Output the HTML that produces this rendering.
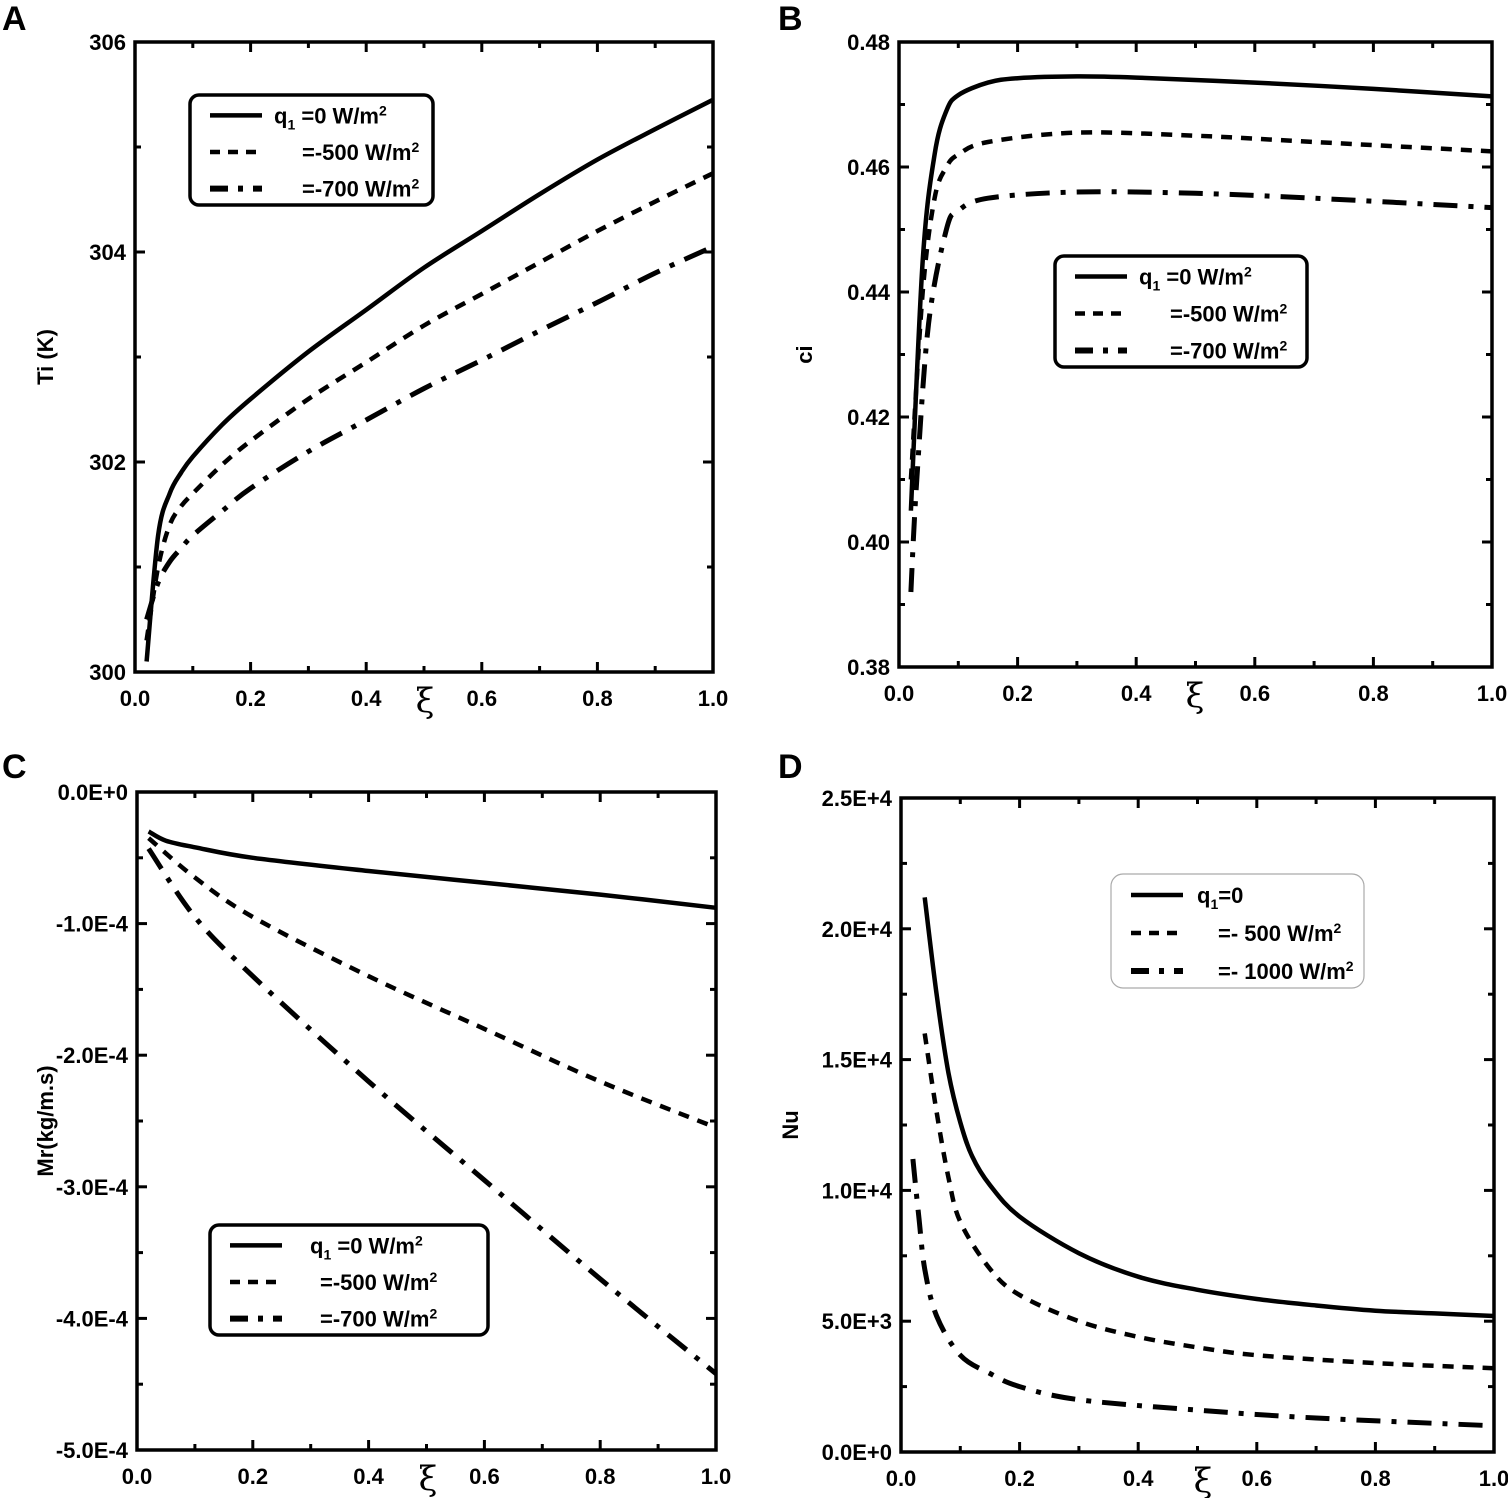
<!DOCTYPE html>
<html><head><meta charset="utf-8"><style>
html,body{margin:0;padding:0;background:#fff;}
svg{display:block;font-family:"Liberation Sans",Arial,sans-serif;font-weight:bold;}
</style></head><body>
<svg id="fig" width="1508" height="1498" viewBox="0 0 1508 1498" xmlns="http://www.w3.org/2000/svg"></svg>
<script>
// ---- Panel A data (Ti in K) ----
const aX0=[0.02,0.04,0.06,0.08,0.1,0.15,0.2,0.3,0.4,0.5,0.6,0.7,0.8,0.9,1.0];
const aY0=[300.1,301.3,301.7,301.9,302.05,302.35,302.6,303.05,303.45,303.85,304.2,304.55,304.88,305.17,305.45];
const aX1=[0.02,0.04,0.06,0.08,0.1,0.15,0.2,0.3,0.4,0.5,0.6,0.7,0.8,0.9,1.0];
const aY1=[300.3,301.0,301.4,301.58,301.7,301.97,302.2,302.6,302.95,303.3,303.6,303.9,304.2,304.48,304.75];
const aX2=[0.02,0.04,0.06,0.08,0.1,0.15,0.2,0.3,0.4,0.5,0.6,0.7,0.8,0.9,1.0];
const aY2=[300.5,300.85,301.05,301.18,301.3,301.53,301.75,302.1,302.4,302.7,302.97,303.25,303.52,303.8,304.05];
const aYTicks=["300","302","304","306"];
// ---- Panel B data (ci) ----
const bX0=[0.02,0.04,0.06,0.08,0.1,0.15,0.2,0.3,0.4,0.6,0.8,1.0];
const bY0=[0.405,0.445,0.462,0.469,0.4715,0.4735,0.4742,0.4745,0.4743,0.4735,0.4725,0.4713];
const bX1=[0.02,0.04,0.06,0.08,0.1,0.15,0.3,0.5,0.7,1.0];
const bY1=[0.41,0.44,0.455,0.46,0.462,0.464,0.4655,0.465,0.464,0.4625];
const bX2=[0.02,0.03,0.05,0.08,0.1,0.15,0.3,0.5,0.7,1.0];
const bY2=[0.392,0.41,0.435,0.45,0.453,0.455,0.456,0.4558,0.455,0.4535];
const bYTicks=["0.38","0.40","0.42","0.44","0.46","0.48"];
// ---- Panel C data (Mr, units 1E-4) ----
const cX0=[0.02,0.05,0.1,0.2,0.4,0.6,0.8,1.0];
const cY0=[-0.3,-0.37,-0.42,-0.5,-0.6,-0.69,-0.78,-0.88];
const cX1=[0.02,0.1,0.2,0.4,0.6,0.8,1.0];
const cY1=[-0.35,-0.65,-0.95,-1.4,-1.8,-2.2,-2.55];
const cX2=[0.02,0.1,0.2,0.4,0.6,0.8,1.0];
const cY2=[-0.43,-0.95,-1.4,-2.2,-2.95,-3.7,-4.42];
const cYTicks=["-5.0E-4","-4.0E-4","-3.0E-4","-2.0E-4","-1.0E-4","0.0E+0"];
// ---- Panel D data (Nu, units 1E4) ----
const dX0=[0.04,0.06,0.08,0.1,0.12,0.15,0.2,0.3,0.4,0.5,0.6,0.7,0.8,0.9,1.0];
const dY0=[2.12,1.75,1.45,1.26,1.13,1.02,0.9,0.76,0.67,0.62,0.585,0.56,0.54,0.53,0.52];
const dX1=[0.04,0.06,0.08,0.1,0.15,0.2,0.3,0.4,0.5,0.6,0.8,1.0];
const dY1=[1.6,1.3,1.05,0.88,0.7,0.6,0.5,0.44,0.4,0.37,0.34,0.32];
const dX2=[0.02,0.03,0.04,0.06,0.1,0.15,0.2,0.3,0.5,0.7,1.0];
const dY2=[1.12,0.9,0.7,0.52,0.37,0.3,0.25,0.2,0.16,0.13,0.1];
const dYTicks=["0.0E+0","5.0E+3","1.0E+4","1.5E+4","2.0E+4","2.5E+4"];
const xTicks=["0.0","0.2","0.4","0.6","0.8","1.0"];

const NS="http://www.w3.org/2000/svg";
const fig=document.getElementById('fig');
function mk(tag,attrs,parent){const e=document.createElementNS(NS,tag);for(const k in attrs)e.setAttribute(k,attrs[k]);(parent||fig).appendChild(e);return e;}
const DASH=["none","11 9","24 11 5 11"];
function smooth(pts){
  let d='M'+pts[0][0].toFixed(1)+','+pts[0][1].toFixed(1);
  for(let i=0;i<pts.length-1;i++){
    const p0=pts[Math.max(0,i-1)],p1=pts[i],p2=pts[i+1],p3=pts[Math.min(pts.length-1,i+2)];
    const c1=[p1[0]+(p2[0]-p0[0])/6,p1[1]+(p2[1]-p0[1])/6];
    const c2=[p2[0]-(p3[0]-p1[0])/6,p2[1]-(p3[1]-p1[1])/6];
    d+=` C${c1[0].toFixed(1)},${c1[1].toFixed(1)} ${c2[0].toFixed(1)},${c2[1].toFixed(1)} ${p2[0].toFixed(1)},${p2[1].toFixed(1)}`;
  }
  return d;
}

function panel(p){
  const g=mk('g',{});
  
  
  const sx=v=>p.L+v*(p.R-p.L);
  const sy=v=>p.B-(v-p.ymin)/(p.ymax-p.ymin)*(p.B-p.T);
  const lbl=mk('text',{x:p.lx,y:p.ly,'font-size':34},g);lbl.textContent=p.id;
  
  const fr=mk('rect',{x:p.L,y:p.T,width:p.R-p.L,height:p.B-p.T,fill:'none',stroke:'#000','stroke-width':3.5},g);
  
  for(let i=0;i<=10;i++){
    const x=sx(i/10),len=i%2?6:10;
    mk('line',{x1:x,y1:p.B,x2:x,y2:p.B-len,stroke:'#000','stroke-width':3},g);
    mk('line',{x1:x,y1:p.T,x2:x,y2:p.T+len,stroke:'#000','stroke-width':3},g);
  }
  xTicks.forEach((t,i)=>{const e=mk('text',{x:sx(i*0.2),y:p.B+34,'font-size':22,'text-anchor':'middle'},g);e.textContent=t;
    });
  const n=p.yTicks.length-1;
  for(let i=0;i<=2*n;i++){
    const v=p.ymin+(p.ymax-p.ymin)*i/(2*n),y=sy(v),len=i%2?6:10;
    mk('line',{x1:p.L,y1:y,x2:p.L+len,y2:y,stroke:'#000','stroke-width':3},g);
    mk('line',{x1:p.R,y1:y,x2:p.R-len,y2:y,stroke:'#000','stroke-width':3},g);
  }
  p.yTicks.forEach((t,i)=>{const e=mk('text',{x:p.L-9,y:sy(p.ymin+(p.ymax-p.ymin)*i/n)+8,'font-size':22,'text-anchor':'end'},g);e.textContent=t;
    });
  const xi=mk('text',{x:p.xix,y:p.B+40,'font-size':34,'font-weight':'normal','font-family':'"DejaVu Serif",serif','text-anchor':'middle'},g);xi.textContent='ξ';
  
  const yt=mk('text',{x:p.ytx,y:(p.T+p.B)/2,'font-size':22,'text-anchor':'middle',transform:`rotate(-90 ${p.ytx} ${(p.T+p.B)/2})`},g);yt.textContent=p.ytitle;
  
  p.series.forEach((s,k)=>{
    const pts=s[0].map((x,i)=>[sx(x),sy(s[1][i])]);
    const pa=mk('path',{d:smooth(pts),fill:'none',stroke:'#000','stroke-width':k==2?5:4.5,'stroke-dasharray':DASH[k],'stroke-linejoin':'round'},g);
    
    
  });
  const lg=p.leg;
  const box=mk('rect',{x:lg.x,y:lg.y,width:lg.w,height:lg.h,rx:lg.thin?12:9,fill:'#fff',stroke:lg.thin?'#aaa':'#000','stroke-width':lg.thin?1.2:3.5},g);
  
  lg.labels.forEach((t,k)=>{
    const y=lg.y+lg.h*(k+0.5)/3+2;
    mk('line',{x1:lg.x+20,y1:y,x2:lg.x+72,y2:y,stroke:'#000','stroke-width':k==2?6:4.5,'stroke-dasharray':k==0?'none':k==1?'10 8':'18 10 5 10'},g);
    const e=mk('text',{x:lg.x+(k==0?lg.q:lg.t),y:y+8,'font-size':22},g);
    e.innerHTML=t;
    
  });
}
const q0='q<tspan font-size="14" dy="6">1</tspan><tspan dy="-6"> =0 W/m</tspan><tspan font-size="14" dy="-8">2</tspan>';
const lab=v=>v+' W/m<tspan font-size="14" dy="-8">2</tspan>';
panel({id:'A',lx:2,ly:30,L:135,R:713,T:42,B:672,ymin:300,ymax:306,yTicks:aYTicks,xix:425,ytx:53,ytitle:'Ti (K)',
  series:[[aX0,aY0],[aX1,aY1],[aX2,aY2]],
  leg:{x:190,y:95,w:243,h:110,q:84,t:112,labels:[q0,lab('=-500'),lab('=-700')]}});
panel({id:'B',lx:778,ly:30,L:899,R:1492,T:42,B:667,ymin:0.38,ymax:0.48,yTicks:bYTicks,xix:1195,ytx:812,ytitle:'ci',
  series:[[bX0,bY0],[bX1,bY1],[bX2,bY2]],
  leg:{x:1055,y:256,w:252,h:111,q:84,t:115,labels:[q0,lab('=-500'),lab('=-700')]}});
panel({id:'C',lx:2,ly:778,L:137,R:716,T:792,B:1450,ymin:-5,ymax:0,yTicks:cYTicks,xix:428,ytx:53,ytitle:'Mr(kg/m.s)',
  series:[[cX0,cY0],[cX1,cY1],[cX2,cY2]],
  leg:{x:210,y:1225,w:278,h:110,q:100,t:110,labels:[q0,lab('=-500'),lab('=-700')]}});
panel({id:'D',lx:778,ly:778,L:901,R:1494,T:798,B:1452,ymin:0,ymax:2.5,yTicks:dYTicks,xix:1203,ytx:798,ytitle:'Nu',
  series:[[dX0,dY0],[dX1,dY1],[dX2,dY2]],
  leg:{x:1111,y:874,w:253,h:114,thin:true,q:86,t:107,labels:['q<tspan font-size="14" dy="6">1</tspan><tspan dy="-6">=0</tspan>',lab('=- 500'),lab('=- 1000')]}});
</script>
</body></html>
